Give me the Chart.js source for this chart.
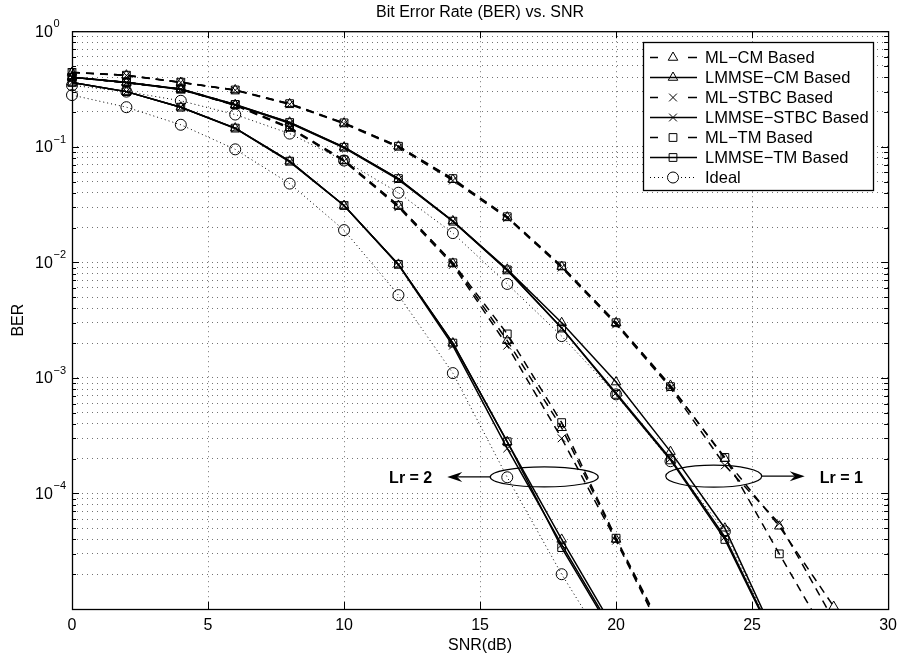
<!DOCTYPE html>
<html>
<head>
<meta charset="utf-8">
<title>Bit Error Rate (BER) vs. SNR</title>
<script src="https://cdn.jsdelivr.net/npm/chart.js@4.4.1/dist/chart.umd.min.js"></script>
<style>
  html, body { margin: 0; padding: 0; background: #fff; }
  #wrap { width: 904px; height: 659px; }
</style>
</head>
<body>
<div id="wrap"><canvas id="berChart" width="904" height="659"></canvas></div>
<script>
const snr = [0, 2, 4, 6, 8, 10, 12, 14, 16, 18, 20, 22, 24, 26, 28];

// Lr = 1
const mlCm1   = [0.44, 0.416, 0.36, 0.31, 0.235, 0.16, 0.101, 0.052, 0.0246, 0.0092, 0.0030, 8.6e-4, 2.0e-4, 5.2e-5, 1.05e-5];
const mlStbc1 = [0.44, 0.414, 0.36, 0.308, 0.233, 0.158, 0.099, 0.051, 0.0242, 0.0090, 0.0029, 8.2e-4, 1.75e-4, 5.5e-5, 8e-6];
const mlTm1   = [0.44, 0.416, 0.362, 0.31, 0.236, 0.161, 0.101, 0.053, 0.0248, 0.0093, 0.0030, 8.4e-4, 2.05e-4, 3.0e-5, 4.6e-6];
const lmCm1   = [0.40, 0.36, 0.315, 0.23, 0.163, 0.099, 0.0527, 0.0228, 0.0087, 0.0030, 9.2e-4, 2.3e-4, 5.0e-5, 4.8e-6, null];
const lmStbc1 = [0.40, 0.36, 0.313, 0.23, 0.16, 0.098, 0.052, 0.0226, 0.0085, 0.0027, 7.4e-4, 2.0e-4, 4.2e-5, 4.5e-6, null];
const lmTm1   = [0.40, 0.362, 0.316, 0.232, 0.162, 0.099, 0.053, 0.0227, 0.0086, 0.0027, 7.2e-4, 1.95e-4, 4.0e-5, 4.4e-6, null];
const ideal1  = [0.34, 0.30, 0.25, 0.19, 0.13, 0.076, 0.040, 0.0179, 0.0065, 0.0023, 7.2e-4, 1.9e-4, 4.7e-5, 4.5e-6, null];

// Lr = 2
const mlCm2   = [0.40, 0.36, 0.315, 0.23, 0.146, 0.076, 0.031, 0.0098, 0.0021, 3.7e-4, 4.0e-5, 4.7e-6, null, null, null];
const mlStbc2 = [0.40, 0.358, 0.313, 0.228, 0.144, 0.075, 0.030, 0.0095, 0.0019, 3.0e-4, 3.9e-5, 4.4e-6, null, null, null];
const mlTm2   = [0.40, 0.36, 0.316, 0.232, 0.147, 0.077, 0.031, 0.0099, 0.0024, 4.1e-4, 4.1e-5, 4.9e-6, null, null, null];
const lmCm2   = [0.36, 0.30, 0.22, 0.145, 0.075, 0.031, 0.0096, 0.0020, 2.8e-4, 4.0e-5, 6.3e-6, null, null, null, null];
const lmStbc2 = [0.36, 0.30, 0.22, 0.144, 0.074, 0.031, 0.0095, 0.0019, 2.45e-4, 3.6e-5, 5.8e-6, null, null, null, null];
const lmTm2   = [0.36, 0.30, 0.22, 0.145, 0.075, 0.031, 0.0096, 0.0020, 2.8e-4, 3.4e-5, 5.5e-6, null, null, null, null];
const ideal2  = [0.28, 0.22, 0.155, 0.095, 0.048, 0.019, 0.0052, 0.0011, 1.38e-4, 2.0e-5, 3.5e-6, null, null, null, null];

const xTicks = [0, 5, 10, 15, 20, 25, 30];
const yDecades = [0, -1, -2, -3, -4];

const FONT = '"Liberation Sans", Arial, Helvetica, sans-serif';
const DASHED = [8, 6];
const DOTTED = [1, 3];

function points(values) {
  return snr.map((s, i) => ({ x: s, y: values[i] }));
}

function series(label, values, dash, marker, inLegend) {
  return {
    label: label,
    data: points(values),
    inLegend: inLegend,
    borderColor: "#000",
    borderWidth: dash === DOTTED ? 1 : 1.5,
    borderDash: dash,
    pointStyle: marker,
    pointRadius: 5.5,
    pointHoverRadius: 5.5,
    pointBorderWidth: 1,
    pointBorderColor: "#000",
    pointBackgroundColor: "rgba(0,0,0,0)",
    tension: 0,
    fill: false,
    clip: { left: 8, right: 8, top: 8, bottom: 0.5 },
  };
}

const datasets = [
  series("ML\u2212CM Based", mlCm1, DASHED, "triangle", true),
  series("LMMSE\u2212CM Based", lmCm1, [], "triangle", true),
  series("ML\u2212STBC Based", mlStbc1, DASHED, "crossRot", true),
  series("LMMSE\u2212STBC Based", lmStbc1, [], "crossRot", true),
  series("ML\u2212TM Based", mlTm1, DASHED, "rect", true),
  series("LMMSE\u2212TM Based", lmTm1, [], "rect", true),
  series("Ideal", ideal1, DOTTED, "circle", true),
  series("ML\u2212CM Based", mlCm2, DASHED, "triangle", false),
  series("LMMSE\u2212CM Based", lmCm2, [], "triangle", false),
  series("ML\u2212STBC Based", mlStbc2, DASHED, "crossRot", false),
  series("LMMSE\u2212STBC Based", lmStbc2, [], "crossRot", false),
  series("ML\u2212TM Based", mlTm2, DASHED, "rect", false),
  series("LMMSE\u2212TM Based", lmTm2, [], "rect", false),
  series("Ideal", ideal2, DOTTED, "circle", false),
];

// ellipse + arrow call-outs, anchored in data units
const callouts = [
  { text: "Lr = 2", x: 17.36, y: 1.39e-4, rx: 54, ry: 10, side: -1 },
  { text: "Lr = 1", x: 23.59, y: 1.41e-4, rx: 48, ry: 11, side: 1 },
];

function isDecade(v) {
  const l = Math.log10(v);
  return Math.abs(l - Math.round(l)) < 1e-9;
}

function drawMarker(ctx, shape, x, y, r) {
  ctx.beginPath();
  if (shape === "triangle") {
    ctx.moveTo(x, y - r);
    ctx.lineTo(x + 0.866 * r, y + 0.5 * r);
    ctx.lineTo(x - 0.866 * r, y + 0.5 * r);
    ctx.closePath();
  } else if (shape === "crossRot") {
    const d = r * Math.SQRT1_2;
    ctx.moveTo(x - d, y - d);
    ctx.lineTo(x + d, y + d);
    ctx.moveTo(x - d, y + d);
    ctx.lineTo(x + d, y - d);
  } else if (shape === "rect") {
    const s = r * Math.SQRT1_2;
    ctx.rect(x - s, y - s, 2 * s, 2 * s);
  } else {
    ctx.arc(x, y, r, 0, Math.PI * 2);
  }
  ctx.stroke();
}

// box, inward ticks and the Lr call-outs
const frame = {
  id: "frame",
  afterDatasetsDraw(chart) {
    const { ctx, chartArea: a, scales } = chart;
    const x = scales.x, y = scales.y;
    ctx.save();
    ctx.strokeStyle = "#000";
    ctx.fillStyle = "#000";
    ctx.lineWidth = 1;
    ctx.setLineDash([]);
    ctx.beginPath();
    x.ticks.forEach((t) => {
      const px = Math.round(x.getPixelForValue(t.value)) + 0.5;
      ctx.moveTo(px, a.bottom);
      ctx.lineTo(px, a.bottom - 7);
      ctx.moveTo(px, a.top);
      ctx.lineTo(px, a.top + 7);
    });
    y.ticks.forEach((t) => {
      const py = Math.round(y.getPixelForValue(t.value)) + 0.5;
      const len = isDecade(t.value) ? 7 : 4;
      ctx.moveTo(a.left, py);
      ctx.lineTo(a.left + len, py);
      ctx.moveTo(a.right, py);
      ctx.lineTo(a.right - len, py);
    });
    ctx.stroke();
    ctx.lineWidth = 1.3;
    ctx.strokeRect(a.left + 0.5, a.top + 0.5, a.right - a.left, a.bottom - a.top);

    ctx.lineWidth = 1.2;
    callouts.forEach((c) => {
      const cx = x.getPixelForValue(c.x);
      const cy = y.getPixelForValue(c.y);
      ctx.beginPath();
      ctx.ellipse(cx, cy, c.rx, c.ry, 0, 0, Math.PI * 2);
      ctx.stroke();
      const start = cx + c.side * c.rx;
      const tip = start + c.side * 43;
      ctx.beginPath();
      ctx.moveTo(start, cy);
      ctx.lineTo(tip - c.side * 10, cy);
      ctx.stroke();
      ctx.beginPath();
      ctx.moveTo(tip, cy);
      ctx.lineTo(tip - c.side * 15, cy - 5);
      ctx.lineTo(tip - c.side * 10, cy);
      ctx.lineTo(tip - c.side * 15, cy + 5);
      ctx.closePath();
      ctx.fill();
      ctx.font = "bold 16px " + FONT;
      ctx.textBaseline = "middle";
      ctx.textAlign = c.side < 0 ? "right" : "left";
      ctx.fillText(c.text, tip + c.side * 15, cy + 2);
    });
    ctx.restore();
  },
};

// 10^n tick labels with raised exponent
const yLabels = {
  id: "yLabels",
  afterDraw(chart) {
    const { ctx } = chart;
    const y = chart.scales.y;
    ctx.save();
    ctx.fillStyle = "#000";
    ctx.textAlign = "left";
    ctx.textBaseline = "middle";
    yDecades.forEach((e) => {
      const py = y.getPixelForValue(Math.pow(10, e));
      ctx.font = "16px " + FONT;
      ctx.fillText("10", 35, py + 1);
      ctx.font = "11px " + FONT;
      ctx.fillText(e === 0 ? "0" : "\u2212" + -e, 53.5, py - 7);
    });
    ctx.restore();
  },
};

// boxed legend with line sample + marker
const boxLegend = {
  id: "boxLegend",
  afterDraw(chart) {
    const { ctx } = chart;
    const box = { left: 643, top: 42, right: 873, bottom: 190 };
    const items = chart.data.datasets.filter((d) => d.inLegend);
    ctx.save();
    ctx.fillStyle = "#fff";
    ctx.fillRect(box.left, box.top, box.right - box.left, box.bottom - box.top);
    ctx.strokeStyle = "#000";
    ctx.lineWidth = 1.3;
    ctx.strokeRect(box.left + 0.5, box.top + 0.5, box.right - box.left, box.bottom - box.top);
    items.forEach((d, i) => {
      const ry = Math.round(box.top + 14.7 + i * 20.1) + 0.5;
      const l = box.left + 7, r = box.left + 54, m = box.left + 30;
      ctx.lineWidth = d.borderWidth;
      if (d.borderDash.length === 0) {
        ctx.setLineDash([]);
        ctx.beginPath();
        ctx.moveTo(l, ry);
        ctx.lineTo(r, ry);
        ctx.stroke();
      } else {
        const dotted = d.borderDash === DOTTED;
        ctx.setLineDash(dotted ? DOTTED : []);
        ctx.beginPath();
        ctx.moveTo(l, ry);
        ctx.lineTo(dotted ? m - 8 : l + 8, ry);
        ctx.moveTo(dotted ? m + 8 : r - 9, ry);
        ctx.lineTo(r, ry);
        ctx.stroke();
      }
      ctx.setLineDash([]);
      ctx.lineWidth = 1;
      drawMarker(ctx, d.pointStyle, m, ry, d.pointRadius);
      ctx.fillStyle = "#000";
      ctx.font = "16.5px " + FONT;
      ctx.textAlign = "left";
      ctx.textBaseline = "middle";
      ctx.fillText(d.label, box.left + 62, ry + 1);
    });
    ctx.restore();
  },
};

Chart.defaults.font.family = FONT;
Chart.defaults.color = "#000";

const gridStyle = { color: "rgba(0,0,0,0.55)", lineWidth: 1, drawTicks: false };

new Chart(document.getElementById("berChart"), {
  type: "line",
  data: { datasets: datasets },
  options: {
    responsive: false,
    animation: false,
    events: [],
    layout: { padding: { right: 13 } },
    plugins: {
      legend: { display: false },
      tooltip: { enabled: false },
      title: {
        display: true,
        text: "Bit Error Rate (BER) vs. SNR",
        fullSize: false,
        color: "#000",
        font: { size: 16, weight: "normal" },
        padding: { top: 3, bottom: 9 },
      },
    },
    scales: {
      x: {
        type: "linear",
        min: 0,
        max: 30,
        afterBuildTicks: (scale) => {
          scale.ticks = xTicks.map((v) => ({ value: v }));
        },
        ticks: { font: { size: 16 }, padding: 7, maxRotation: 0, autoSkip: false },
        grid: gridStyle,
        border: { display: false, dash: [1, 4] },
        title: { display: true, text: "SNR(dB)", font: { size: 16 }, padding: { top: 0, bottom: 4 } },
        afterFit: (scale) => {
          scale.height = 50;
        },
      },
      y: {
        type: "logarithmic",
        min: 1e-5,
        max: 1,
        afterBuildTicks: (scale) => {
          const ticks = [];
          for (let e = -5; e < 0; e++) {
            for (let m = 1; m < 10; m++) ticks.push({ value: m * Math.pow(10, e) });
          }
          ticks.push({ value: 1 });
          scale.ticks = ticks;
        },
        ticks: { display: false },
        grid: gridStyle,
        border: { display: false, dash: [1, 4] },
        title: { display: true, text: "BER", font: { size: 16 }, padding: { top: 9, bottom: 0 } },
        afterFit: (scale) => {
          scale.width = 72;
        },
      },
    },
  },
  plugins: [frame, yLabels, boxLegend],
});
</script>
</body>
</html>
